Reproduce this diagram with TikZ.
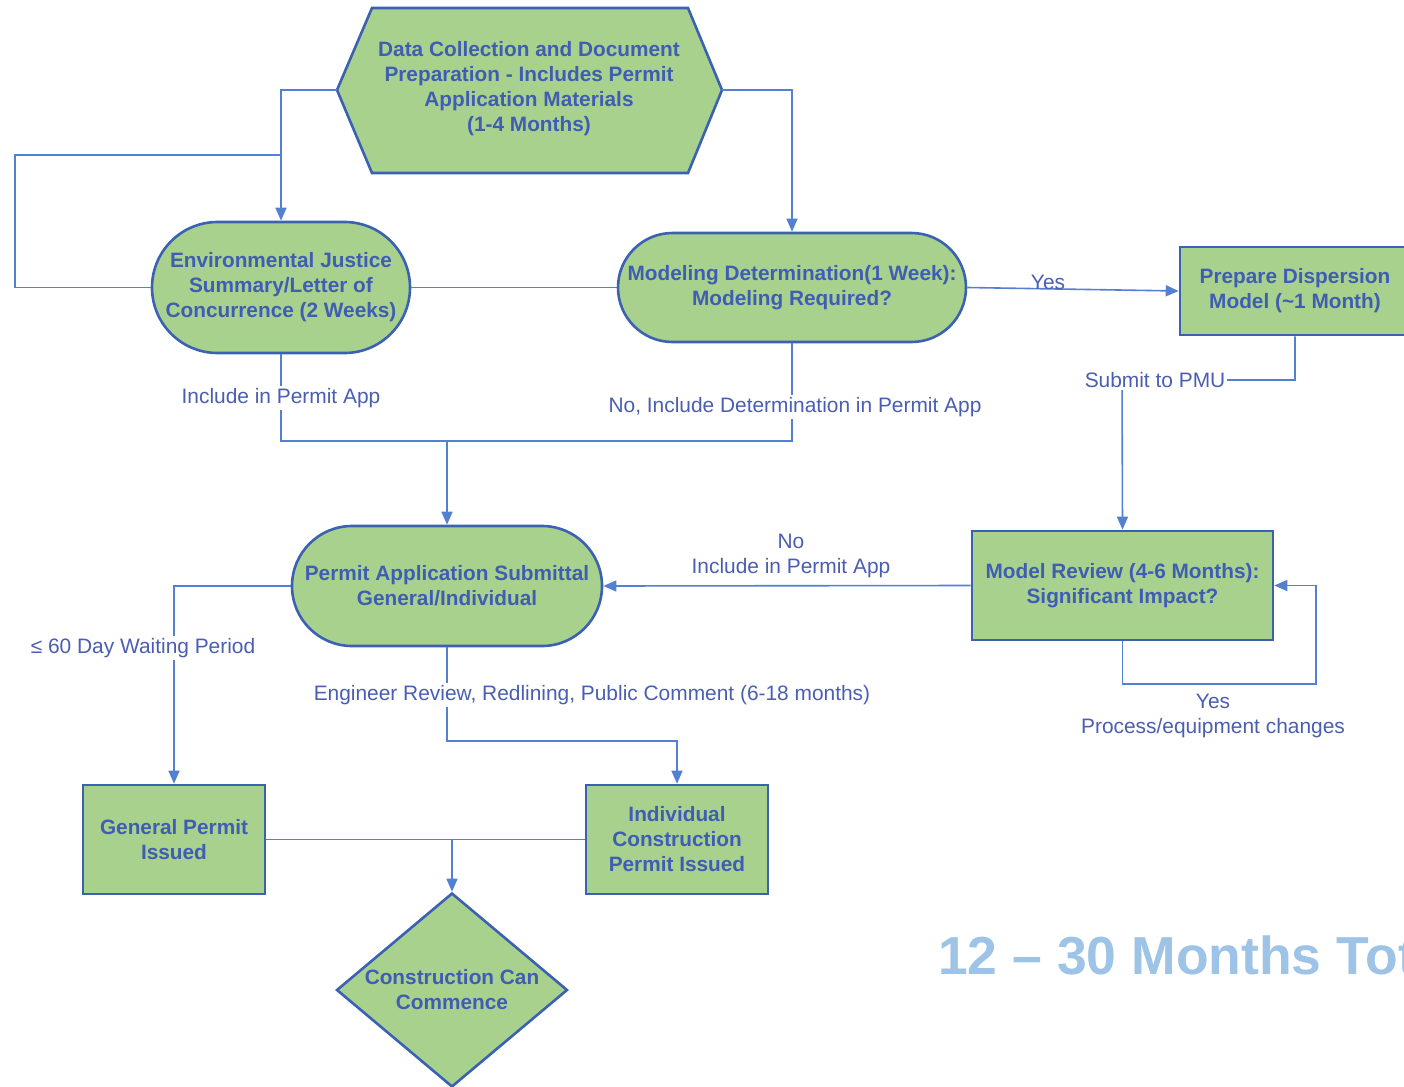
\documentclass[tikz,border=0pt]{standalone}
\usepackage{fontspec}
\setmainfont{Liberation Sans}
\usetikzlibrary{shapes.misc,shapes.geometric,arrows.meta}
\definecolor{boxfill}{HTML}{A9D18E}
\definecolor{boxline}{HTML}{3B62B2}
\definecolor{boxtext}{HTML}{3F5DB3}
\definecolor{wirecol}{HTML}{5480D2}
\definecolor{labeltext}{HTML}{4A5EB2}
\definecolor{totaltext}{HTML}{9DC3E6}
\begin{document}
\begin{tikzpicture}[x=1pt,y=-1pt,
  box/.style={draw=boxline, line width=2.6pt, fill=boxfill, text=boxtext,
    font=\fontsize{20.8}{25}\selectfont\bfseries, align=center, inner sep=0pt},
  stadium/.style={box, rounded rectangle},
  rectbox/.style={box, rectangle},
  wire/.style={draw=wirecol, line width=1.6pt},
  arr/.style={wire, -{Triangle[length=13pt,width=11pt]}},
  lbl/.style={text=labeltext, font=\fontsize{20.9}{25}\selectfont, align=center, inner sep=2pt},
  lblbg/.style={lbl, fill=white},
]
\useasboundingbox (0,0) rectangle (1404,1086);
\clip (0,0) rectangle (1404,1086);
\fill[white] (0,0) rectangle (1404,1086);

% start: data collection hexagon
\draw[draw=boxline, line width=2.6pt, fill=boxfill]
  (372,8) -- (688,8) -- (722,90) -- (688,173) -- (372,173) -- (337,90) -- cycle;
\node[text=boxtext, font=\fontsize{20.8}{25}\selectfont\bfseries, align=center] (data) at (529,89)
  {Data Collection and Document\\Preparation - Includes Permit\\Application Materials\\(1-4 Months)};
\coordinate (hexW) at (337,90);
\coordinate (hexE) at (722,90);

% process nodes
\node[stadium, minimum width=258pt, minimum height=131pt] (ej) at (281,287.5)
  {Environmental Justice\\Summary/Letter of\\Concurrence (2 Weeks)};
\node[stadium, minimum width=348pt, minimum height=109pt] (mod) at (792,287.5)
  {Modeling Determination(1 Week):\\Modeling Required?};
\node[rectbox, minimum width=230pt, minimum height=88pt] (prep) at (1295,291)
  {Prepare Dispersion\\Model (\textasciitilde1 Month)};
\node[rectbox, minimum width=301pt, minimum height=109pt] (review) at (1122.5,585.5)
  {Model Review (4-6 Months):\\Significant Impact?};
\node[stadium, minimum width=310pt, minimum height=120pt] (permit) at (447,586)
  {Permit Application Submittal\\General/Individual};
\node[rectbox, minimum width=182pt, minimum height=109pt] (general) at (174,839.5)
  {General Permit\\Issued};
\node[rectbox, minimum width=182pt, minimum height=109pt] (indiv) at (677,839.5)
  {Individual\\Construction\\Permit Issued};
\node[box, diamond, aspect=1.19, minimum width=231pt, minimum height=194pt] (commence) at (452,990)
  {Construction Can\\Commence};

% helper points for the routed connectors
\coordinate (ejbranch) at (281,155);
\coordinate (ejloop) at (15,155);
\coordinate (join) at (447,441);
\coordinate (pmu) at (1122,380);
\coordinate (loopA) at (1316,684);
\coordinate (engturn) at (447,741);
\coordinate (cc) at (452,839.5);

% connectors
\draw[arr] (hexW) -| (ej.north);
\draw[wire] (ejbranch) -- (ejloop) |- (ej.west);
\draw[arr] (hexE) -| (mod.north);
\draw[wire] (ej.east) -- (mod.west);
\draw[arr] (mod.east) -- (prep.west);
\draw[arr] (prep.south) |- (pmu) -- (review.north);
\draw[wire] (ej.south) |- (join);
\draw[wire] (mod.south) |- (join);
\draw[arr] (join) -- (permit.north);
\draw[arr] (review.west) -- (permit.east);
\draw[arr] (review.south) |- (loopA) |- (review.east);
\draw[arr] (permit.west) -| (general.north);
\draw[arr] (permit.south) -- (engturn) -| (indiv.north);
\draw[wire] (general.east) -- (indiv.west);
\draw[arr] (cc) -- (commence.north);

% connector labels
\node[lbl] (yes1) at (1048,282) {Yes};
\node[lblbg] (submit) at (1155,380) {Submit to PMU};
\node[lblbg] (incl1) at (281,398) {Include in Permit App};
\node[lblbg] (incl2) at (795,407) {No, Include Determination in Permit App};
\node[lbl] (no1) at (791,556) {No\\Include in Permit App};
\node[lbl] (yes2) at (1213,716) {Yes\\Process/equipment changes};
\node[lblbg] (wait) at (143,648) {≤ 60 Day Waiting Period};
\node[lblbg] (eng) at (592,695) {Engineer Review, Redlining, Public Comment (6-18 months)};

% overall duration
\node[anchor=base west, text=totaltext, font=\fontsize{53.5}{53.5}\selectfont\bfseries, inner sep=0pt]
  (total) at (938,974) {12 – 30 Months Tot};
\end{tikzpicture}
\end{document}
